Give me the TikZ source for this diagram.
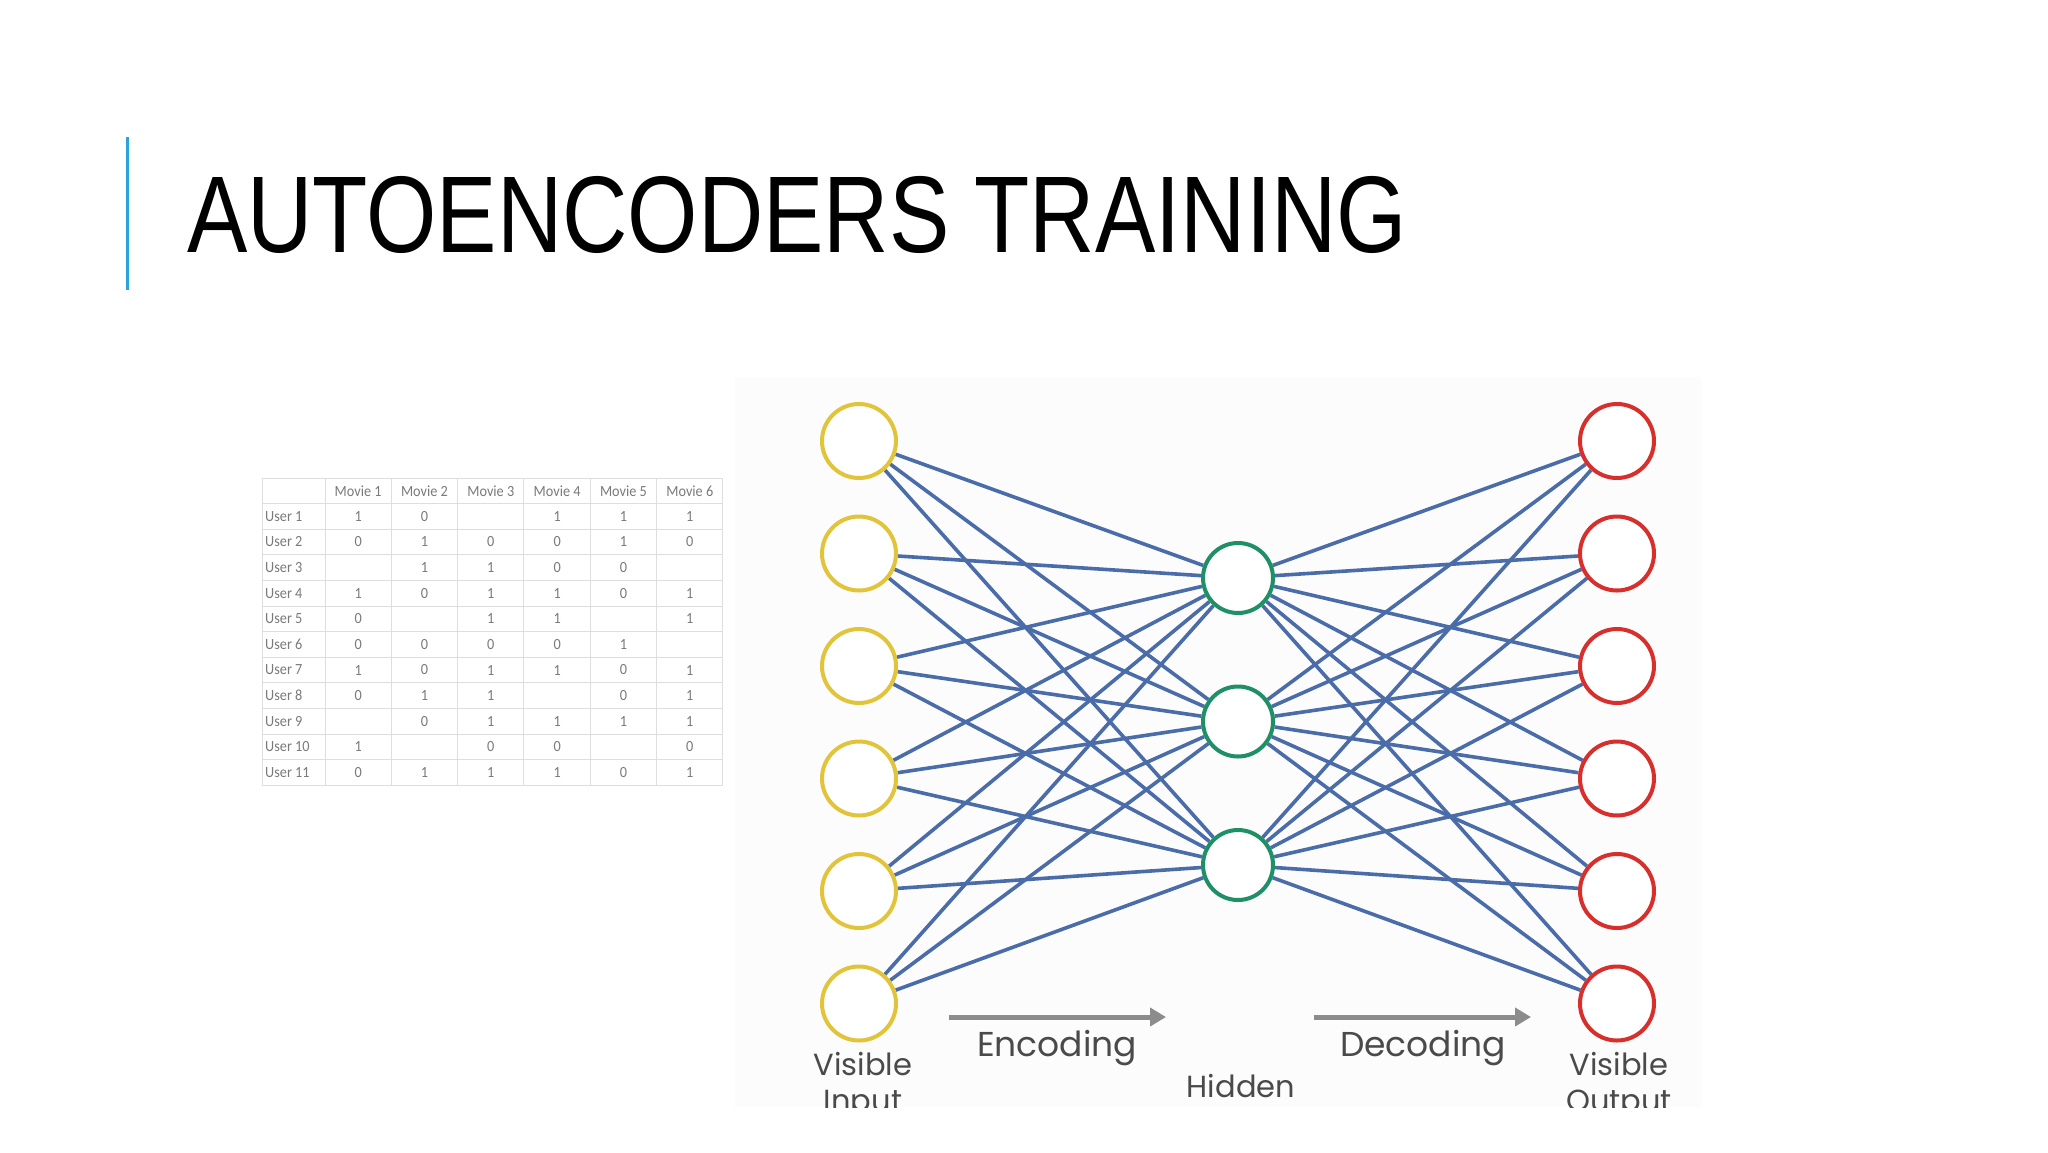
\documentclass[tikz,border=0pt]{standalone}
\usepackage{fontspec}
\setmainfont{Liberation Sans}
\newfontfamily\titlefont[FakeStretch=0.83]{Liberation Sans}
\newfontfamily\tablefont[FakeStretch=0.92]{Carlito}
\newfontfamily\netfont{Poppins}
\usetikzlibrary{arrows.meta,backgrounds}
\definecolor{titlebar}{HTML}{2AA4D9}
\definecolor{inyellow}{HTML}{E2C43A}
\definecolor{hidgreen}{HTML}{1F8F66}
\definecolor{outred}{HTML}{D62F2C}
\definecolor{wireblue}{HTML}{4A6CA8}
\definecolor{arrowgray}{HTML}{8C8C8C}
\definecolor{labelgray}{HTML}{4A4A4A}
\definecolor{tabletext}{HTML}{7A7A7A}
\definecolor{tablegrid}{HTML}{DEDEDE}
\definecolor{panelbg}{HTML}{FCFCFD}
\tikzset{
  neuron/.style={circle,minimum size=74pt,inner sep=0pt,line width=4pt,fill=white},
  incirc/.style={neuron,draw=inyellow},
  hidcirc/.style={neuron,draw=hidgreen,minimum size=70pt},
  outcirc/.style={neuron,draw=outred},
  wire/.style={draw=wireblue,line width=3.6pt},
  flowarrow/.style={draw=arrowgray,line width=5pt,-{Triangle[length=16pt,width=18pt]}},
  netlabel/.style={font=\netfont\fontsize{30.5}{36}\selectfont,text=labelgray,inner sep=0pt,align=center},
  biglabel/.style={netlabel,font=\netfont\fontsize{34.5}{40}\selectfont},
  celltext/.style={font=\tablefont\fontsize{15.5}{18}\selectfont,text=tabletext,inner sep=0pt},
}
\begin{document}
\begin{tikzpicture}[x=1pt,y=-1pt]
\useasboundingbox (0,0) rectangle (2048,1152);
% title
\draw[titlebar,line width=3pt] (127,137) -- (127,290);
\node[anchor=base west,inner sep=0pt,font=\titlefont\fontsize{109}{120}\selectfont] (title) at (187,252) {AUTOENCODERS TRAINING};

% table grid
\foreach \k in {0,...,12} {
  \draw[tablegrid,line width=1pt] (262,478+25.6*\k) -- (723,478+25.6*\k);
}
\draw[tablegrid,line width=1pt] (262,478) -- (262,785.2);
\foreach \k in {0,...,6} {
  \draw[tablegrid,line width=1pt] (325+66.33*\k,478) -- (325+66.33*\k,785.2);
}
\foreach \j in {1,...,6} {
  \node[celltext] (h\j) at (325+66.33*\j-33.17,490.8) {Movie \j};
}
\foreach \vals [count=\i] in {
  {1,0,{},1,1,1},
  {0,1,0,0,1,0},
  {{},1,1,0,0,{}},
  {1,0,1,1,0,1},
  {0,{},1,1,{},1},
  {0,0,0,0,1,{}},
  {1,0,1,1,0,1},
  {0,1,1,{},0,1},
  {{},0,1,1,1,1},
  {1,{},0,0,{},0},
  {0,1,1,1,0,1}} {
  \node[celltext,anchor=west] (u\i) at (265,490.8+25.6*\i) {User \i};
  \foreach \v [count=\j] in \vals {
    \node[celltext] (c\i-\j) at (325+66.33*\j-33.17,490.8+25.6*\i) {\v};
  }
}

% network nodes
\foreach \n in {1,...,6} {
  \node[incirc] (in\n) at (859,441+112.5*\n-112.5) {};
  \node[outcirc] (out\n) at (1617,441+112.5*\n-112.5) {};
}
\foreach \n in {1,2,3} {
  \node[hidcirc] (hid\n) at (1238,578+143.5*\n-143.5) {};
}
\begin{scope}[on background layer]
\fill[white] (0,0) rectangle (2048,1152);
\fill[panelbg] (735,377) rectangle (1702,1107);
\foreach \a in {1,...,6} {
  \foreach \b in {1,2,3} {
    \draw[wire] (in\a) -- (hid\b);
    \draw[wire] (hid\b) -- (out\a);
  }
}
\end{scope}

% arrows
\coordinate (encA) at (949,1017);
\coordinate (encB) at (1166,1017);
\coordinate (decA) at (1314,1017);
\coordinate (decB) at (1531,1017);
\draw[flowarrow] (encA) -- (encB);
\draw[flowarrow] (decA) -- (decB);

% labels (clipped at panel bottom)
\begin{scope}
\clip (0,0) rectangle (2048,1107);
\node[biglabel] (lenc) at (1057,1048) {Encoding};
\node[biglabel] (ldec) at (1423,1048) {Decoding};
\node[netlabel] (lhid) at (1241,1086) {Hidden};
\node[netlabel,anchor=north] (lin) at (863,1052) {Visible\\Input};
\node[netlabel,anchor=north] (lout) at (1619,1052) {Visible\\Output};
\end{scope}
\end{tikzpicture}
\end{document}
